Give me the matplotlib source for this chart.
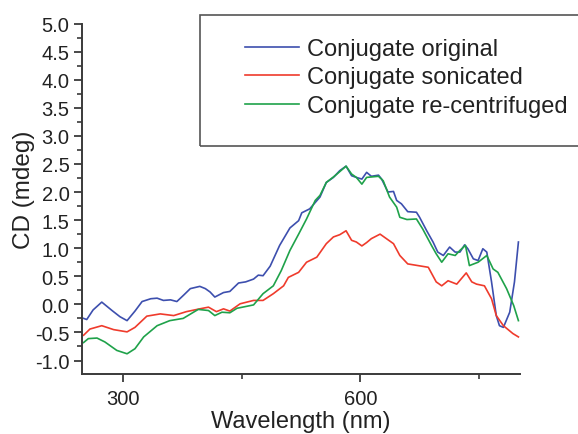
import numpy as np
import matplotlib
matplotlib.use("Agg")
import matplotlib.pyplot as plt
from matplotlib.patches import Rectangle
from matplotlib.ticker import MultipleLocator, FixedLocator

plt.rcParams['font.family'] = ['Liberation Sans', 'DejaVu Sans']

# --- data (wavelength nm, CD mdeg) ---
wl_orig = [250, 254, 262, 273, 286, 296, 305, 315, 324, 335, 343, 351, 360, 368, 377,
           385, 397, 404, 410, 416, 427, 435, 446, 455, 465, 471, 477, 486, 498, 511,
           522, 526, 536, 549, 557, 566, 574, 582, 589, 595, 602, 608, 614, 623, 627,
           635, 642, 646, 652, 660, 671, 675, 684, 692, 698, 705, 713, 720, 726, 732,
           736, 743, 749, 755, 760, 766, 772, 776, 781, 789, 795, 800]
cd_orig = [-0.25, -0.27, -0.10, 0.04, -0.11, -0.22, -0.29, -0.12, 0.05, 0.10, 0.11, 0.07,
           0.08, 0.05, 0.17, 0.28, 0.32, 0.28, 0.22, 0.13, 0.21, 0.23, 0.38, 0.40, 0.45,
           0.52, 0.51, 0.68, 1.05, 1.36, 1.49, 1.63, 1.70, 1.91, 2.17, 2.26, 2.38, 2.46,
           2.29, 2.26, 2.23, 2.35, 2.28, 2.30, 2.23, 2.00, 2.01, 1.85, 1.79, 1.65, 1.64,
           1.55, 1.31, 1.11, 0.93, 0.87, 1.02, 0.93, 0.93, 1.06, 0.99, 0.81, 0.78, 0.99,
           0.93, 0.40, -0.20, -0.38, -0.41, -0.14, 0.40, 1.11]

wl_son = [250, 258, 273, 288, 305, 315, 330, 347, 364, 380, 397, 408, 418, 427, 435,
          448, 465, 477, 490, 503, 509, 522, 532, 545, 557, 566, 574, 582, 589, 595,
          602, 608, 614, 625, 633, 642, 650, 660, 673, 686, 696, 703, 711, 722, 734,
          741, 747, 757, 766, 772, 781, 793, 800]
cd_son = [-0.55, -0.44, -0.38, -0.45, -0.49, -0.41, -0.21, -0.17, -0.20, -0.13, -0.08,
          -0.05, -0.13, -0.08, -0.12, 0.01, 0.07, 0.07, 0.19, 0.33, 0.48, 0.57, 0.75,
          0.84, 1.08, 1.20, 1.24, 1.31, 1.14, 1.11, 1.04, 1.10, 1.17, 1.25, 1.17, 1.08,
          0.87, 0.72, 0.69, 0.66, 0.40, 0.33, 0.42, 0.36, 0.56, 0.40, 0.36, 0.33, 0.10,
          -0.20, -0.38, -0.52, -0.58]

wl_cent = [250, 256, 267, 277, 292, 305, 315, 326, 343, 359, 376, 395, 408, 416, 425,
           435, 444, 465, 477, 490, 500, 511, 522, 532, 543, 549, 557, 568, 582, 589,
           595, 602, 608, 623, 629, 637, 646, 650, 659, 671, 679, 690, 696, 703, 711,
           720, 726, 733, 738, 749, 760, 768, 774, 785, 794, 800]
cd_cent = [-0.68, -0.61, -0.60, -0.67, -0.82, -0.88, -0.79, -0.58, -0.38, -0.29, -0.25,
           -0.09, -0.11, -0.20, -0.14, -0.15, -0.07, -0.01, 0.19, 0.33, 0.60, 0.96, 1.25,
           1.52, 1.85, 1.94, 2.17, 2.29, 2.46, 2.32, 2.26, 2.14, 2.26, 2.28, 2.20, 1.91,
           1.73, 1.55, 1.51, 1.52, 1.34, 1.05, 0.90, 0.75, 0.90, 0.87, 0.96, 1.05, 0.69,
           0.75, 0.87, 0.63, 0.57, 0.28, -0.02, -0.29]

labels = ["Conjugate original", "Conjugate sonicated", "Conjugate re-centrifuged"]
colors = ["#3d4fae", "#ef3b2c", "#1fa24a"]

fig = plt.figure(figsize=(5.78, 4.35), dpi=100)
ax = fig.add_axes([82/578, 1-375/435, (520-82)/578, (375-24.5)/435])

lines = []
for wl, cd, c in zip([wl_orig, wl_son, wl_cent], [cd_orig, cd_son, cd_cent], colors):
    l, = ax.plot(wl, cd, color=c, lw=1.2)
    lines.append(l)

ax.set_xlim(248, 802)
ax.set_ylim(-1.24, 5.0)
ax.xaxis.set_major_locator(FixedLocator([300, 600]))
ax.xaxis.set_minor_locator(FixedLocator([450, 750]))
ax.yaxis.set_major_locator(MultipleLocator(0.5))
ax.yaxis.set_minor_locator(MultipleLocator(0.25))
ax.yaxis.set_major_formatter(matplotlib.ticker.FormatStrFormatter('%.1f'))

for s in ['top', 'right']:
    ax.spines[s].set_visible(False)
for s in ['left', 'bottom']:
    ax.spines[s].set_color('#3a3a3a')
    ax.spines[s].set_linewidth(1.4)
ax.tick_params(which='major', length=6, width=1.3, color='#3a3a3a',
               labelsize=14.5, labelcolor='#222222', pad=3)
ax.tick_params(axis='x', which='major', pad=4.5)
ax.tick_params(which='minor', length=3.5, width=1.2, color='#3a3a3a')

ax.set_xlabel("Wavelength (nm)", fontsize=17, color='#222222')
ax.set_ylabel("CD (mdeg)", fontsize=17.5, color='#222222')
ax.xaxis.set_label_coords(0.5, -0.104)
ax.yaxis.set_label_coords((35-82)/438, 0.528)

# legend box drawn in figure pixels (right edge runs off the canvas)
fig.patches.append(Rectangle((200/578, 1-147/435), 400/578, 131/435,
                             transform=fig.transFigure, fill=False,
                             edgecolor='#555555', lw=1.2))
fig.legend(lines, labels, loc='upper left', bbox_to_anchor=(233/578, 1-27/435),
           frameon=False, fontsize=17, handlelength=2.3, handletextpad=0.35,
           labelspacing=0.28, borderpad=0, labelcolor='#222222')

fig.savefig("out.png", dpi=100)
